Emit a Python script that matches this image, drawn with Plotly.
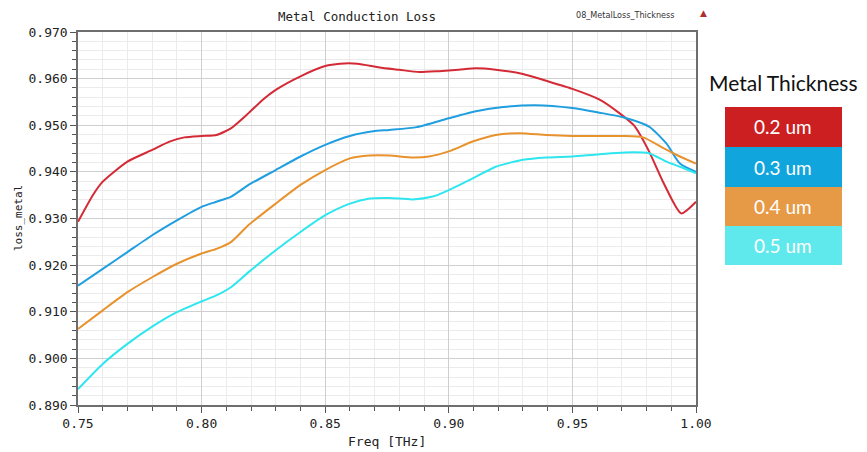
import plotly.graph_objects as go

# ---- data ----
freq_02 = [0.75, 0.756, 0.76, 0.77, 0.78, 0.787, 0.793, 0.80, 0.806, 0.812, 0.819, 0.825, 0.83, 0.84, 0.85,
           0.856, 0.863, 0.872, 0.880, 0.888, 0.896, 0.904, 0.911, 0.919, 0.930, 0.939, 0.95, 0.961, 0.969,
           0.975, 0.981, 0.987, 0.994, 1.00]
loss_02 = [0.9293, 0.9350, 0.9379, 0.9422, 0.9447, 0.9465, 0.9474, 0.9477, 0.9479, 0.9494, 0.9526, 0.9556,
           0.9576, 0.9605, 0.9627, 0.9632, 0.9632, 0.9624, 0.9619, 0.9614, 0.9616, 0.9619, 0.9622, 0.9619,
           0.9610, 0.9596, 0.9578, 0.9555, 0.9526, 0.9499, 0.9444, 0.9375, 0.9311, 0.9336]

freq_03 = [0.75, 0.76, 0.77, 0.78, 0.79, 0.80, 0.806, 0.812, 0.819, 0.83, 0.84, 0.85, 0.86, 0.8694, 0.876,
           0.887, 0.90, 0.911, 0.922, 0.935, 0.95, 0.961, 0.9705, 0.981, 0.988, 0.9935, 1.00]
loss_03 = [0.9156, 0.9192, 0.9228, 0.9264, 0.9296, 0.9325, 0.9336, 0.9347, 0.9372, 0.9404, 0.9433, 0.9458,
           0.9477, 0.9487, 0.9490, 0.9496, 0.9515, 0.9530, 0.9539, 0.9543, 0.9537, 0.9527, 0.9517, 0.9497,
           0.9461, 0.9418, 0.9400]

freq_04 = [0.75, 0.76, 0.77, 0.78, 0.79, 0.80, 0.806, 0.812, 0.819, 0.83, 0.84, 0.85, 0.86, 0.868, 0.876,
           0.8854, 0.892, 0.90, 0.9097, 0.919, 0.9286, 0.9395, 0.95, 0.9705, 0.9786, 0.9868, 0.9935, 1.00]
loss_04 = [0.9063, 0.9103, 0.9142, 0.9174, 0.9203, 0.9225, 0.9235, 0.9250, 0.9286, 0.9332, 0.9372, 0.9404,
           0.9429, 0.9435, 0.9435, 0.9431, 0.9433, 0.9444, 0.9465, 0.9479, 0.9483, 0.9479, 0.9477, 0.9477,
           0.9474, 0.9451, 0.9433, 0.9418]

freq_05 = [0.75, 0.76, 0.77, 0.78, 0.79, 0.80, 0.806, 0.812, 0.819, 0.83, 0.84, 0.85, 0.86, 0.868, 0.876,
           0.8854, 0.8935, 0.90, 0.9097, 0.919, 0.930, 0.9395, 0.95, 0.961, 0.9746, 0.981, 0.988, 0.9935, 1.00]
loss_05 = [0.8934, 0.8988, 0.9031, 0.9068, 0.9099, 0.9122, 0.9135, 0.9153, 0.9185, 0.9232, 0.9271, 0.9307,
           0.9332, 0.9343, 0.9344, 0.9341, 0.9347, 0.9361, 0.9386, 0.9411, 0.9426, 0.9431, 0.9433, 0.9438,
           0.9442, 0.9440, 0.9422, 0.9411, 0.9397]

series_names = ["0.2 um", "0.3 um", "0.4 um", "0.5 um"]
line_colors = ["#d42a35", "#1f9ee0", "#e8922e", "#2ee6ee"]
box_colors = ["#cc1f22", "#11a5dd", "#e69a45", "#5fe9ec"]

W, H = 867, 452
L, R, T, B = 78, 171, 32, 47
PW, PH = W - L - R, H - T - B

def px(x):
    return (x - L) / PW

def py(y):
    return (H - B - y) / PH

fig = go.Figure()
for f, v, c, n in zip([freq_02, freq_03, freq_04, freq_05], [loss_02, loss_03, loss_04, loss_05],
                      line_colors, series_names):
    fig.add_trace(go.Scatter(x=f, y=v, mode="lines", name=n,
                             line=dict(color=c, width=2, shape="spline", smoothing=0.6),
                             showlegend=False))

mono = "DejaVu Sans Mono"
axis_common = dict(
    showline=True, linecolor="#6e6e6e", linewidth=1.5, mirror=True,
    ticks="outside", ticklen=6, tickcolor="#555555", tickwidth=1,
    showgrid=True, gridcolor="#cfcfcf", gridwidth=1, zeroline=False, automargin=False,
    tickfont=dict(family=mono, size=13, color="#222222"),
)
fig.update_xaxes(range=[0.75, 1.00], tick0=0.75, dtick=0.05, tickformat=".2f",
                 minor=dict(dtick=0.01, ticks="outside", ticklen=4, tickcolor="#555555",
                            showgrid=True, gridcolor="#ebebeb"),
                 **axis_common)
fig.update_yaxes(range=[0.890, 0.970], tick0=0.89, dtick=0.01, tickformat=".3f",
                 minor=dict(dtick=0.002, ticks="outside", ticklen=4, tickcolor="#555555",
                            showgrid=True, gridcolor="#ebebeb"),
                 **axis_common)

def ann(text, x, y, font, angle=0):
    return dict(text=text, x=px(x), y=py(y), xref="paper", yref="paper", xanchor="center",
                yanchor="middle", showarrow=False, font=font, textangle=angle)

annotations = [
    ann("Metal Conduction Loss", 357, 17, dict(family=mono, size=12.5, color="#222222")),
    ann("08_MetalLoss_Thickness", 625, 15, dict(family="DejaVu Sans Condensed", size=9, color="#333333")),
    ann("▲", 703, 13, dict(family="DejaVu Sans", size=9, color="#b03030")),
    ann("Freq [THz]", 387, 441, dict(family=mono, size=13, color="#222222")),
    ann("loss_metal", 18, 218, dict(family=mono, size=11, color="#222222"), angle=-90),
    ann("Metal Thickness", 783, 82, dict(family="Lato", size=21, color="#111111")),
]
shapes = []
box_tops = [107, 147, 187, 226]
box_bottoms = [147, 187, 226, 265]
for n, c, t, b in zip(series_names, box_colors, box_tops, box_bottoms):
    shapes.append(dict(type="rect", xref="paper", yref="paper", x0=px(725), x1=px(842),
                       y0=py(b), y1=py(t), fillcolor=c, line=dict(width=0), layer="above"))
    annotations.append(ann(n, 783.5, (t + b) / 2, dict(family="Lato", size=19, color="white")))

fig.update_layout(
    width=W, height=H,
    margin=dict(l=L, r=R, t=T, b=B),
    plot_bgcolor="white", paper_bgcolor="white",
    annotations=annotations, shapes=shapes,
    hovermode=False,
)
fig.write_html("out.html", config={"displayModeBar": False},
               post_script="document.body.style.margin='0';document.body.style.overflow='hidden';")
